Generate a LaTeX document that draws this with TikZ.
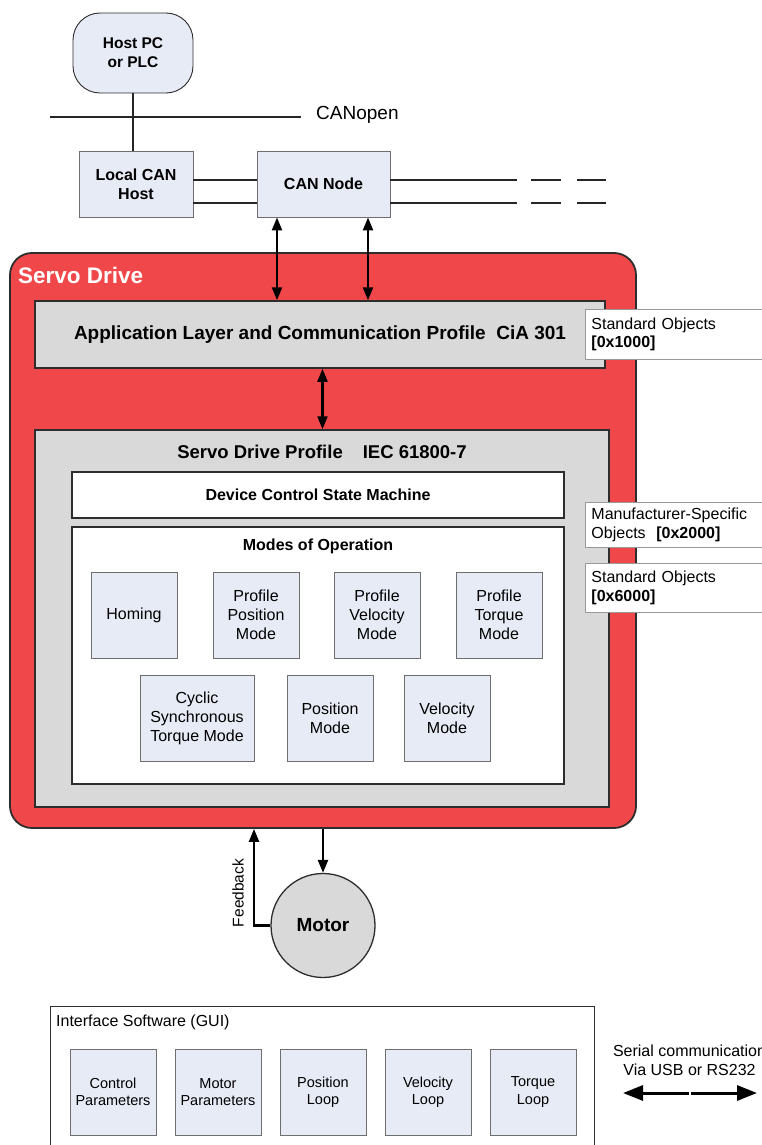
\documentclass[tikz,border=0pt]{standalone}
\usepackage{fontspec}
\setmainfont{Liberation Sans}
\usetikzlibrary{arrows.meta}
\definecolor{lblue}{RGB}{230,235,246}
\definecolor{sred}{RGB}{240,72,74}
\definecolor{lgray}{RGB}{217,217,217}
\definecolor{bord}{RGB}{110,110,110}
\definecolor{dark}{RGB}{45,45,45}
\begin{document}
\begin{tikzpicture}[x=1pt,y=-1pt,
  reg/.style={font=\fontsize{16}{19}\selectfont},
  bld/.style={font=\bfseries\fontsize{16}{19}\selectfont},
  lbox/.style={draw=bord, fill=lblue, line width=0.9pt, align=center, inner sep=0pt},
  modebox/.style={lbox, reg, minimum width=86, minimum height=86},
  guibox/.style={lbox, font=\fontsize{14.5}{17.5}\selectfont, minimum width=86, minimum height=86},
  graybox/.style={draw=dark, fill=lgray, line width=1.5pt, inner sep=0pt},
  whitebox/.style={draw=dark, fill=white, line width=1.5pt, inner sep=0pt},
  sidebox/.style={draw=bord!70, fill=white, line width=0.9pt, anchor=north west, align=left, text width=172pt, inner xsep=6pt, inner ysep=0pt, font=\fontsize{16}{18.5}\selectfont},
  bus/.style={line width=2pt, draw=black!85},
  dbl/.style={line width=2.3pt, {Triangle[length=13pt,width=10pt]}-{Triangle[length=13pt,width=10pt]}},
  arr/.style={line width=2.3pt, -{Triangle[length=13pt,width=10pt]}},
  bigarr/.style={line width=3pt, -{Triangle[length=20pt,width=15pt]}}
]
\useasboundingbox (0,0) rectangle (762,1145);

% top network
\node[lbox, bld, font=\bfseries\fontsize{15.5}{19}\selectfont, draw=dark, rounded corners=27pt, minimum width=120, minimum height=80] (host) at (133,53) {Host PC\\or PLC};
\node[lbox, bld, minimum width=114, minimum height=66] (lch) at (136,184) {Local CAN\\Host};
\node[lbox, bld, minimum width=133, minimum height=66] (cann) at (323.5,184) {CAN Node};
\coordinate (cl) at (50,117);
\coordinate (cr) at (301,117);
\node[anchor=west, inner sep=0pt, font=\fontsize{19}{21}\selectfont] (canopen) at (316,115) {CANopen};
\draw[bus] (cl) -- (cr);
\draw[bus, line width=2.5pt] (host.south) -- (host.south |- lch.north);
\draw[bus] ([yshift=4pt]lch.east) -- ([yshift=4pt]cann.west);
\draw[bus] ([yshift=-19pt]lch.east) -- ([yshift=-19pt]cann.west);
\coordinate (e1) at (606,180);
\coordinate (e2) at (606,203);
\draw[bus, dash pattern=on 127pt off 14pt on 30pt off 16pt on 29pt off 50pt] ([yshift=4pt]cann.east) -- (e1);
\draw[bus, dash pattern=on 127pt off 14pt on 30pt off 16pt on 29pt off 50pt] ([yshift=-19pt]cann.east) -- (e2);

% servo drive
\node[draw=dark, fill=sred, line width=1.8pt, rounded corners=22pt, minimum width=626, minimum height=575, inner sep=0pt] (sd) at (323,540.5) {};
\node[anchor=west, text=white, inner sep=0pt, font=\bfseries\fontsize{22.5}{25}\selectfont] (sdl) at (18,275) {Servo Drive};
\node[graybox, font=\bfseries\fontsize{19}{22}\selectfont, minimum width=570, minimum height=67] (app) at (320,334.5) {Application Layer and Communication Profile\ \ CiA 301};

\coordinate (a1) at ([xshift=-46.5pt]cann.south);
\coordinate (a2) at ([xshift=44.5pt]cann.south);
\draw[dbl] (a1) -- (a1 |- app.north);
\draw[dbl] (a2) -- (a2 |- app.north);

\node[graybox, minimum width=574, minimum height=377] (prof) at (322,618.5) {};
\coordinate (a3) at ([xshift=2.5pt]app.south);
\draw[dbl] (a3) -- (a3 |- prof.north);
\node[inner sep=0pt, font=\bfseries\fontsize{18.5}{21}\selectfont] (proft) at (322,452) {Servo Drive Profile\hspace{20pt}IEC 61800-7};

\node[whitebox, bld, minimum width=492, minimum height=46] (dcsm) at (318,495) {Device Control State Machine};
\node[whitebox, minimum width=492, minimum height=257] (modes) at (318,655.5) {};
\node[bld, inner sep=0pt] (modest) at (318,546) {Modes of Operation};

\node[modebox] (hom) at (134,615) {Homing};
\node[modebox] (ppm) at (256,615) {Profile\\Position\\Mode};
\node[modebox] (pvm) at (377,615) {Profile\\Velocity\\Mode};
\node[modebox] (ptm) at (499,615) {Profile\\Torque\\Mode};
\node[modebox, minimum width=114] (cst) at (197,718) {Cyclic\\Synchronous\\Torque Mode};
\node[modebox] (pm) at (330,718) {Position\\Mode};
\node[modebox] (vm) at (447,718) {Velocity\\Mode};

% side labels
\node[sidebox, minimum height=50] (so1) at (585,309) {Standard Objects\\\textbf{[0x1000]}};
\node[sidebox, minimum height=45] (so2) at (585,502) {Manufacturer-Specific\\Objects\ \ \textbf{[0x2000]}};
\node[sidebox, minimum height=49] (so6) at (585,563) {Standard Objects\\\textbf{[0x6000]}};

% motor
\node[circle, draw=dark, fill=lgray, line width=1.3pt, minimum size=104, inner sep=0pt, font=\bfseries\fontsize{19}{22}\selectfont] (motor) at (323,925.5) {Motor};
\coordinate (fbt) at ([xshift=-69pt]sd.south);
\draw[arr] (motor.west) -| (fbt);
\draw[arr] (sd.south) -- (motor.north);
\node[rotate=90, inner sep=0pt, font=\fontsize{15.5}{18}\selectfont] (fbl) at (238,893) {Feedback};

% GUI
\node[draw=dark, line width=1.2pt, minimum width=544, minimum height=160, anchor=north west, inner sep=0pt] (gui) at (50,1006) {};
\node[anchor=west, inner sep=0pt, reg] (guit) at (56,1022) {Interface Software (GUI)};
\node[guibox] (g1) at (113,1092) {Control\\Parameters};
\node[guibox] (g2) at (218,1092) {Motor\\Parameters};
\node[guibox] (g3) at (323,1092) {Position\\Loop};
\node[guibox] (g4) at (428,1092) {Velocity\\Loop};
\node[guibox] (g5) at (533,1092) {Torque\\Loop};

\node[align=center, inner sep=0pt, reg] (ser) at (689.5,1060) {Serial communication\\Via USB or RS232};
\coordinate (sl) at (623,1093);
\coordinate (sr) at (757,1093);
\coordinate (sm1) at (689,1093);
\coordinate (sm2) at (691,1093);
\draw[bigarr] (sm1) -- (sl);
\draw[bigarr] (sm2) -- (sr);
\end{tikzpicture}
\end{document}
